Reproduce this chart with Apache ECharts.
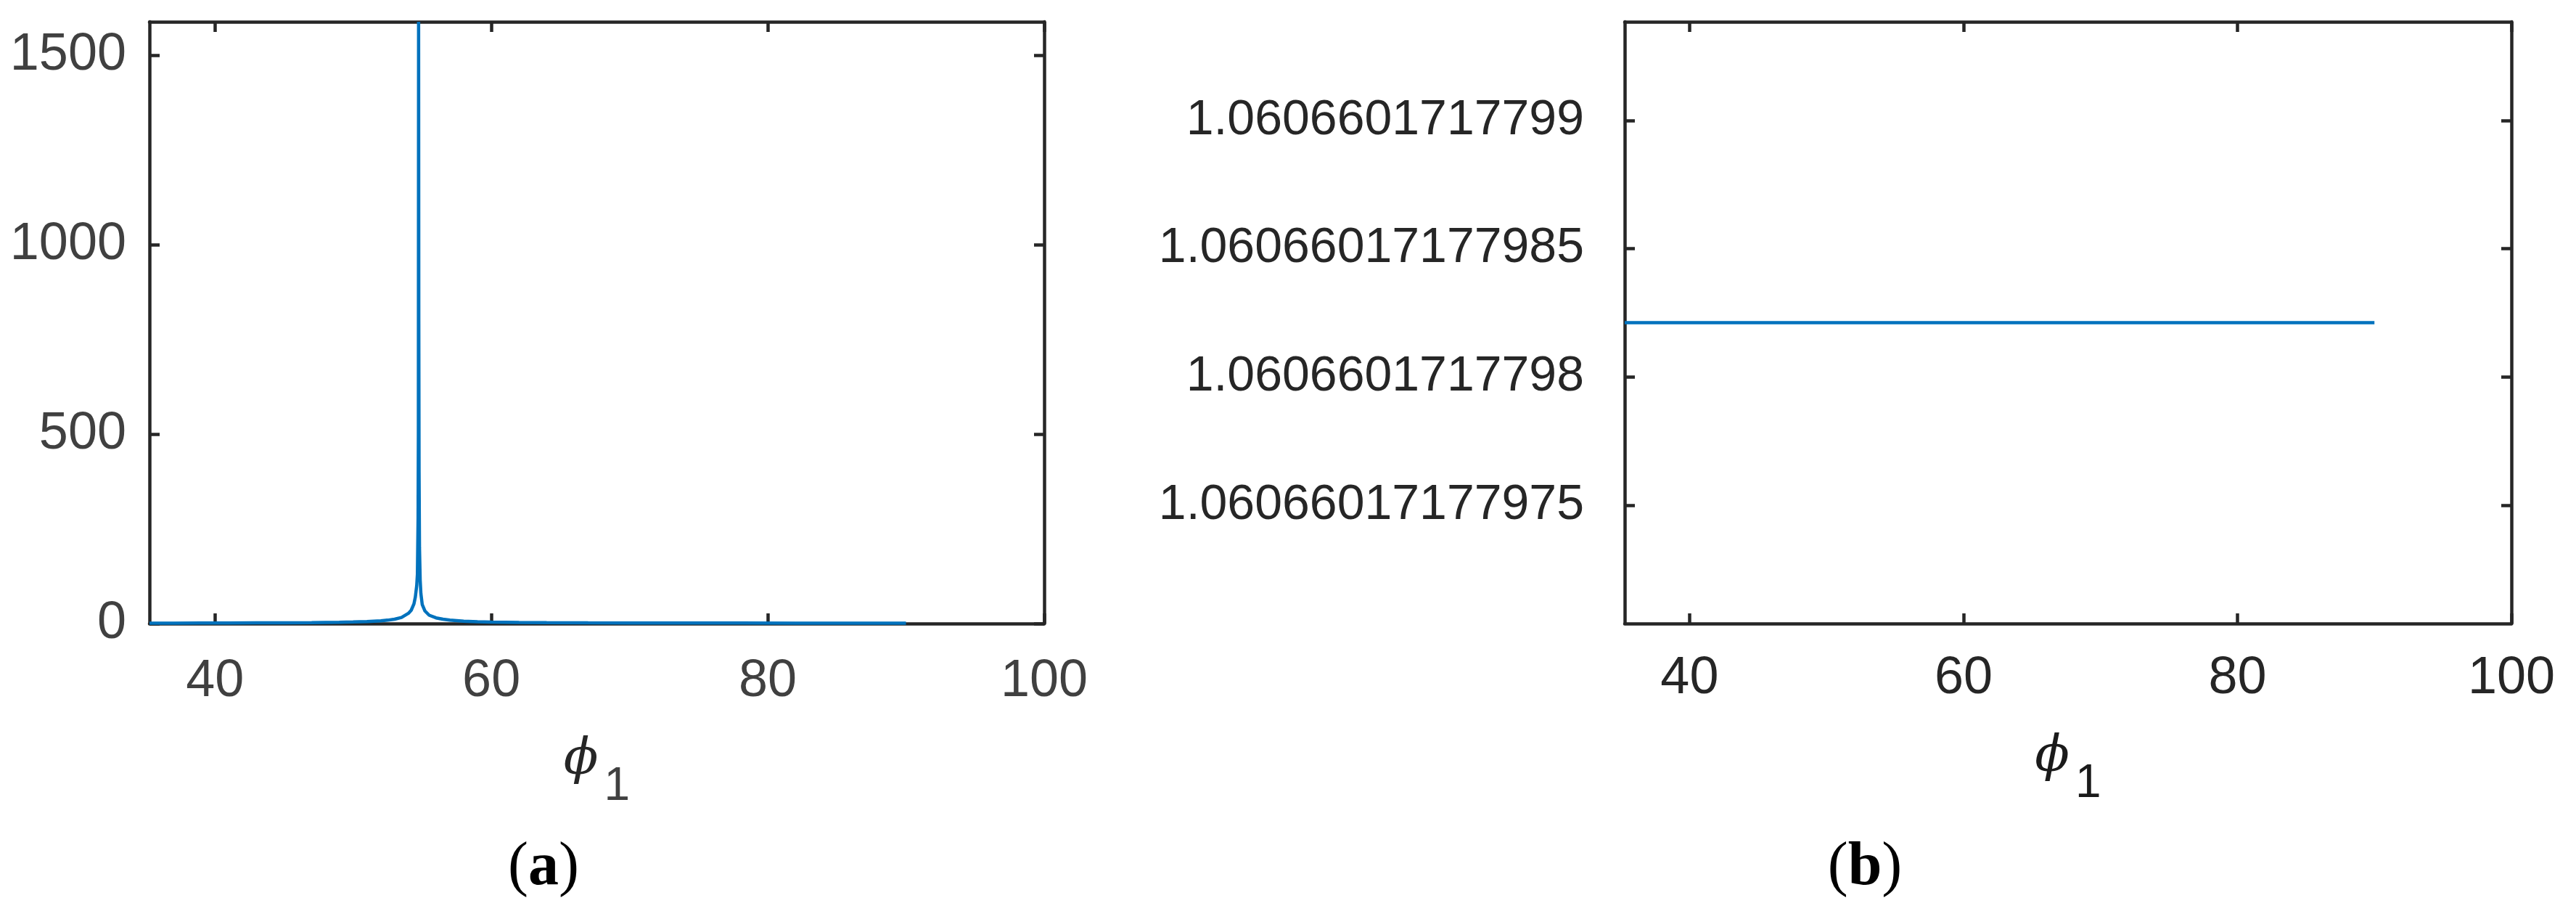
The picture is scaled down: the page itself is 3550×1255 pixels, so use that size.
<!DOCTYPE html>
<html>
<head>
<meta charset="utf-8">
<script src="https://cdn.jsdelivr.net/npm/echarts@6/dist/echarts.min.js"></script>
<style>
  html, body { margin: 0; padding: 0; background: #ffffff; }
  #chart { width: 3550px; height: 1255px; }
</style>
</head>
<body>
<div id="chart"></div>
<script>
// ---------- data ----------
// panel (a): response vs phi_1 (degrees), resonance near 54.74
const phiA = [35.2644, 37, 39, 41, 43, 45, 47, 49, 50, 51, 52, 52.5, 53, 53.5, 54, 54.2, 54.4, 54.5, 54.6,
              54.65, 54.7, 54.72, 54.7356, 54.75, 54.77, 54.8, 54.85, 54.9, 55, 55.2, 55.5, 56, 56.5, 57,
              58, 59, 60, 62, 64, 67, 70, 74, 78, 82, 86, 90];
const valA = [1.0, 1.1, 1.2, 1.4, 1.7, 2.0, 2.5, 3.4, 4.2, 5.3, 7.3, 8.9, 11.6, 16, 27, 35, 52, 70, 100,
              130, 280, 500, 1589, 800, 400, 200, 115, 80, 50, 33, 22, 15, 11.5, 9.2,
              6.4, 4.9, 4.0, 2.9, 2.3, 1.8, 1.55, 1.35, 1.2, 1.1, 1.03, 1.0];

// panel (b): constant value 3/(2*sqrt(2))
const phiB = [35.2644, 40, 45, 50, 55, 60, 65, 70, 75, 80, 85, 90];
const valB = [1.0606601717798212, 1.0606601717798212, 1.0606601717798212, 1.0606601717798212,
              1.0606601717798212, 1.0606601717798212, 1.0606601717798212, 1.0606601717798212,
              1.0606601717798212, 1.0606601717798212, 1.0606601717798212, 1.0606601717798212];

// axis ticks / limits
const xTicks = [40, 60, 80, 100];
const xMin = 35.2644, xMax = 100;
const yTicksA = [0, 500, 1000, 1500];
const yMinA = 0, yMaxA = 1589;
const yTickLabelsB = ['1.06066017177975', '1.0606601717798', '1.06066017177985', '1.0606601717799'];
const yMinB = 1.060660171779704, yMaxB = 1.0606601717799385;

// ---------- chart ----------
const yTicksB = yTickLabelsB.map(Number);
const AX = '#262626';
const BLUE = '#0072BD';

function labB(v) {
  let best = 0, bd = Infinity;
  yTicksB.forEach((t, i) => { const d = Math.abs(t - v); if (d < bd) { bd = d; best = i; } });
  return yTickLabelsB[best];
}

function xAxes(gi, labColor, margin, nameGap, phiColor, subColor) {
  const common = {
    type: 'value', gridIndex: gi, min: xMin, max: xMax,
    axisLine: { show: true, onZero: false, lineStyle: { color: AX, width: 4.5 } },
    axisTick: { show: true, inside: true, length: 14, customValues: xTicks, lineStyle: { color: AX, width: 4.5 } },
    splitLine: { show: false }
  };
  return [
    Object.assign({}, common, {
      position: 'bottom',
      axisLabel: { show: true, customValues: xTicks, margin: margin, fontSize: 72,
                   fontFamily: 'Liberation Sans', color: labColor, formatter: v => String(v) },
      name: '{phi|\u03D5}{sub|1}', nameLocation: 'middle', nameGap: nameGap,
      nameTextStyle: {
        rich: {
          phi: { fontFamily: 'DejaVu Serif', fontStyle: 'italic', fontSize: 70, color: phiColor, lineHeight: 80 },
          sub: { fontFamily: 'Liberation Sans', fontSize: 64, color: subColor, lineHeight: 64, padding: [72, 0, 0, 8] }
        }
      }
    }),
    Object.assign({}, common, { position: 'top', axisLabel: { show: false } })
  ];
}

function yAxes(gi, min, max, ticks, labelOpt) {
  const common = {
    type: 'value', gridIndex: gi, min: min, max: max,
    axisLine: { show: true, onZero: false, lineStyle: { color: AX, width: 4.5 } },
    axisTick: { show: true, inside: true, length: 14, customValues: ticks, lineStyle: { color: AX, width: 4.5 } },
    splitLine: { show: false }
  };
  return [
    Object.assign({}, common, { position: 'left', axisLabel: Object.assign({ show: true, customValues: ticks }, labelOpt) }),
    Object.assign({}, common, { position: 'right', axisLabel: { show: false } })
  ];
}

const chart = echarts.init(document.getElementById('chart'), null, { renderer: 'canvas' });
chart.setOption({
  backgroundColor: '#ffffff',
  animation: false,
  grid: [
    { left: 206, top: 30, width: 1233, height: 829 },
    { left: 2239, top: 30, width: 1222, height: 829 }
  ],
  xAxis: [].concat(
    xAxes(0, '#404040', 44, 122, '#262626', '#404040'),
    xAxes(1, '#262626', 40, 116, '#1a1a1a', '#1a1a1a')
  ),
  yAxis: [].concat(
    yAxes(0, yMinA, yMaxA, yTicksA, { margin: 32, fontSize: 72, fontFamily: 'Liberation Sans', color: '#404040', formatter: v => String(v) }),
    yAxes(1, yMinB, yMaxB, yTicksB, { margin: 56, fontSize: 68, fontFamily: 'Liberation Sans', color: '#262626', formatter: v => labB(v) })
  ),
  series: [
    {
      type: 'line', xAxisIndex: 0, yAxisIndex: 0, showSymbol: false, clip: true,
      lineStyle: { color: BLUE, width: 4.5 },
      data: phiA.map((x, i) => [x, valA[i]])
    },
    {
      type: 'line', xAxisIndex: 2, yAxisIndex: 2, showSymbol: false, clip: true,
      lineStyle: { color: BLUE, width: 4.5 },
      data: phiB.map((x, i) => [x, valB[i]])
    }
  ],
  graphic: [
    { type: 'text', x: 749, y: 1196, style: {
        text: '{p|(}{b|a}{p|)}', align: 'center', verticalAlign: 'middle',
        rich: { p: { fontFamily: 'Liberation Serif', fontSize: 84, fill: '#000' },
                b: { fontFamily: 'Liberation Serif', fontWeight: 'bold', fontSize: 84, fill: '#000' } } } },
    { type: 'text', x: 2570, y: 1196, style: {
        text: '{p|(}{b|b}{p|)}', align: 'center', verticalAlign: 'middle',
        rich: { p: { fontFamily: 'Liberation Serif', fontSize: 84, fill: '#000' },
                b: { fontFamily: 'Liberation Serif', fontWeight: 'bold', fontSize: 84, fill: '#000' } } } }
  ]
});
</script>
</body>
</html>
